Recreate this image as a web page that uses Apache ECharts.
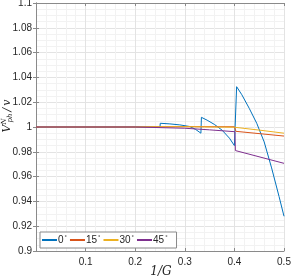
<!DOCTYPE html>
<html><head><meta charset="utf-8">
<script src="https://cdn.jsdelivr.net/npm/echarts@6/dist/echarts.min.js"></script>
<style>html,body{margin:0;padding:0;background:#fff}#c{width:291px;height:278px}</style>
</head><body><div id="c"></div>
<script>
const seriesNames = ['0', '15', '30', '45'];
const colors = ['#0072BD', '#D95319', '#EDB120', '#7E2F8E'];
const xTicks = [0.1, 0.2, 0.3, 0.4, 0.5];
const yTicks = [0.9, 0.92, 0.94, 0.96, 0.98, 1, 1.02, 1.04, 1.06, 1.08, 1.1];
const deg0 = [[0,1],[0.2,1],[0.25,1.0],[0.2505,1.003],[0.27,1.0025],[0.29,1.0017],[0.31,1.0004],[0.322,0.998],[0.3325,0.995],[0.3335,1.0078],[0.345,1.0055],[0.36,1.002],[0.375,0.9975],[0.39,0.991],[0.4,0.985],[0.4045,1.0325],[0.415,1.026],[0.43,1.015],[0.445,1.003],[0.46,0.988],[0.475,0.967],[0.49,0.944],[0.5,0.928]];
const deg15 = [[0,1],[0.2,1],[0.3,1.0003],[0.4,1.0002],[0.403,0.9965],[0.5,0.9927]];
const deg30 = [[0,1],[0.2,1],[0.3,1.0003],[0.4,0.9998],[0.45,0.9975],[0.5,0.995]];
const deg45 = [[0,1],[0.2,1],[0.25,0.9995],[0.3,0.999],[0.35,0.9977],[0.401,0.9962],[0.402,0.981],[0.5,0.9707]];
const allData = [deg0, deg15, deg30, deg45];

const chart = echarts.init(document.getElementById('c'), null, {renderer:'canvas'});
const axisCol = '#8a8a8a';
const serif = 'DejaVu Serif, serif';
const labelStyle = {color:'#262626', fontSize:10, fontFamily:'Liberation Sans, Arial, sans-serif'};
function xAx(pos, show) {
  return {type:'value', position:pos, min:0, max:0.5, interval:0.1,
    axisLine:{show:true, lineStyle:{color:axisCol, width:1}},
    axisTick:{show:true, inside:true, length:3, lineStyle:{color:axisCol}},
    minorTick:{show:true, splitNumber:5, length:0, lineStyle:{color:'rgba(0,0,0,0)'}},
    splitLine:{show:show, lineStyle:{color:'#e3e3e3', width:1}},
    minorSplitLine:{show:show, lineStyle:{color:'#f2f2f2', width:1}},
    axisLabel:{show:show, showMinLabel:false, margin:6, ...labelStyle,
      formatter: v => xTicks.some(t => Math.abs(t-v)<1e-9) ? String(+v.toFixed(2)) : ''}
  };
}
function yAx(pos, show) {
  return {type:'value', position:pos, min:0.9, max:1.1, interval:0.02,
    axisLine:{show:true, lineStyle:{color:axisCol, width:1}},
    axisTick:{show:true, inside:true, length:3, lineStyle:{color:axisCol}},
    minorTick:{show:true, splitNumber:4, length:0, lineStyle:{color:'rgba(0,0,0,0)'}},
    splitLine:{show:show, lineStyle:{color:'#e3e3e3', width:1}},
    minorSplitLine:{show:show, lineStyle:{color:'#f2f2f2', width:1}},
    axisLabel:{show:show, margin:4, ...labelStyle,
      formatter: v => String(+v.toFixed(2))}
  };
}
chart.setOption({
  animation:false,
  grid:{left:36, top:3, right:7, bottom:27, containLabel:false, outerBoundsMode:'none'},
  xAxis:[xAx('bottom', true), xAx('top', false)],
  yAxis:[yAx('left', true), yAx('right', false)],
  graphic:[{
    type:'text', x:7, y:116, rotation:Math.PI/2, silent:true,
    style:{
      text:'{v|V}{sup|N}{sub|ph}{v|/}{vi|v}', align:'center', verticalAlign:'middle',
      rich:{
        v:{fontFamily:serif, fontStyle:'italic', fontSize:11, fill:'#262626'},
        vi:{fontFamily:serif, fontStyle:'italic', fontSize:11, fill:'#262626', padding:[0,0,0,2]},
        sup:{fontFamily:serif, fontStyle:'italic', fontSize:7, fill:'#262626', verticalAlign:'top', padding:[0,0,6,0]},
        sub:{fontFamily:serif, fontStyle:'italic', fontSize:7, fill:'#262626', verticalAlign:'bottom', padding:[5,2,0,-4]}
      }
    }
  }, {
    type:'text', x:161, y:272, silent:true,
    style:{text:'1/G', align:'center', verticalAlign:'middle',
      font:'italic 12px DejaVu Serif, serif', fill:'#262626'}
  }],
  legend:{
    left:40, top:232, orient:'horizontal', icon:'rect', itemWidth:15, itemHeight:2, itemGap:3,
    padding:[2,9,2,2], borderColor:'#8a8a8a', borderWidth:1, backgroundColor:'#fff',
    textStyle:{color:'#262626', fontSize:10, lineHeight:12, fontFamily:'Liberation Sans, Arial, sans-serif',
      padding:[0,0,0,-4], rich:{d:{fontSize:6, lineHeight:12, verticalAlign:'top', padding:[0,0,4,1], color:'#262626'}}},
    formatter: n => n + '{d|°}',
    data: seriesNames
  },
  series: allData.map((d,i) => ({
    name: seriesNames[i], type:'line', data:d, showSymbol:false, symbol:'none',
    xAxisIndex:0, yAxisIndex:0,
    lineStyle:{color:colors[i], width:1}, itemStyle:{color:colors[i]}, z:2+i
  }))
});
</script></body></html>
